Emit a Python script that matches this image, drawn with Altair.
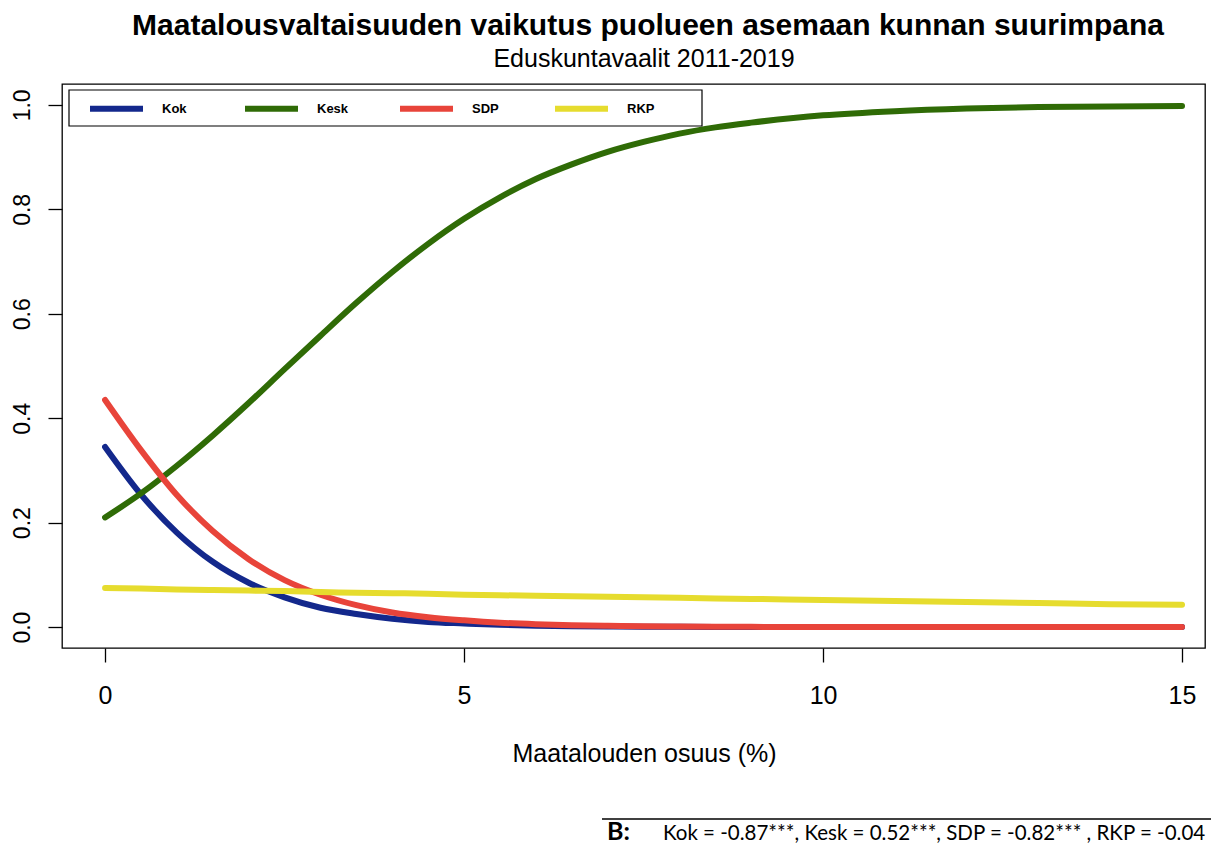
import altair as alt
import pandas as pd

# ---- data ----
x_vals = [0, 0.5, 1, 1.5, 2, 2.5, 3, 3.5, 4, 4.5, 5, 5.5, 6, 6.5, 7, 7.5, 8, 8.5, 9,
          10, 11, 12, 13, 14, 15]
kok = [0.345, 0.254, 0.181, 0.125, 0.085, 0.057, 0.037, 0.025, 0.016, 0.010, 0.007,
       0.0044, 0.0028, 0.0018, 0.0012, 0.0008, 0.0005, 0.0003, 0.0002,
       0.0001, 0.0, 0.0, 0.0, 0.0, 0.0]
kesk = [0.210, 0.256, 0.309, 0.367, 0.429, 0.494, 0.558, 0.621, 0.680, 0.734, 0.782,
        0.823, 0.858, 0.886, 0.910, 0.929, 0.945, 0.957, 0.966,
        0.980, 0.988, 0.993, 0.996, 0.997, 0.998]
sdp = [0.435, 0.339, 0.253, 0.184, 0.130, 0.090, 0.062, 0.042, 0.028, 0.019, 0.013,
       0.0084, 0.0056, 0.0037, 0.0025, 0.0016, 0.0011, 0.0007, 0.0005,
       0.0002, 0.0001, 0.0, 0.0, 0.0, 0.0]
rkp = [0.075, 0.074, 0.072, 0.071, 0.070, 0.069, 0.067, 0.066, 0.065, 0.064, 0.062,
       0.061, 0.060, 0.059, 0.058, 0.057, 0.056, 0.055, 0.054,
       0.052, 0.050, 0.048, 0.046, 0.044, 0.043]

series_names = ["Kok", "Kesk", "SDP", "RKP"]
series_colors = ["#13288c", "#2f6b06", "#e8443a", "#e6dc2e"]

x_ticks = [0, 5, 10, 15]
y_ticks = [0.0, 0.2, 0.4, 0.6, 0.8, 1.0]

title_text = "Maatalousvaltaisuuden vaikutus puolueen asemaan kunnan suurimpana"
subtitle_text = "Eduskuntavaalit 2011-2019"
x_title = "Maatalouden osuus (%)"
note_label = "B:"
note_text = "Kok = -0.87***, Kesk = 0.52***, SDP = -0.82*** , RKP = -0.04"

rows = []
for name, vals in zip(series_names, [kok, kesk, sdp, rkp]):
    for xv, yv in zip(x_vals, vals):
        rows.append({"x": xv, "p": yv, "puolue": name})
df = pd.DataFrame(rows)

W, H = 1143, 564
FONT = "Liberation Sans"

x_scale = alt.Scale(domain=[-0.6, 15.32], nice=False, zero=False)
y_scale = alt.Scale(domain=[-0.04, 1.04], nice=False, zero=False)

lines = alt.Chart(df).mark_line(
    strokeWidth=6, strokeCap="round", strokeJoin="round", interpolate="monotone"
).encode(
    x=alt.X("x:Q", scale=x_scale, axis=alt.Axis(
        values=x_ticks, title=x_title, grid=False, domain=False,
        tickSize=14, tickColor="black", tickWidth=1.3,
        labelFont=FONT, labelFontSize=25, labelColor="black",
        labelPadding=41, labelBaseline="alphabetic", labelFlush=False,
        titleFont=FONT, titleFontSize=25, titleFontWeight="normal", titleColor="black",
        titleX=582, titleY=113, titleAlign="center", titleBaseline="alphabetic")),
    y=alt.Y("p:Q", scale=y_scale, axis=alt.Axis(
        values=y_ticks, format=".1f", title=None, grid=False, domain=False,
        tickSize=14, tickColor="black", tickWidth=1.3,
        labelFont=FONT, labelFontSize=23, labelColor="black",
        labelAngle=270, labelAlign="center", labelBaseline="alphabetic",
        labelPadding=19, labelFlush=False)),
    color=alt.Color("puolue:N", scale=alt.Scale(domain=series_names, range=series_colors),
                    legend=alt.Legend(
                        title=None, orient="none", legendX=25, legendY=-5,
                        direction="horizontal", columns=4, gridAlign="all",
                        symbolType="stroke", symbolSize=2809, symbolStrokeWidth=6,
                        labelFont=FONT, labelFontSize=13, labelFontWeight="bold",
                        labelColor="black", labelOffset=16, columnPadding=39, padding=0)),
)

one = pd.DataFrame({"a": [0]})

legend_box = alt.Chart(one).mark_rect(fill="white", stroke="black", strokeWidth=1.2).encode(
    x=alt.value(7), x2=alt.value(640), y=alt.value(6), y2=alt.value(42))

title_mark = alt.Chart(pd.DataFrame({"t": [title_text]})).mark_text(
    font=FONT, fontSize=30, fontWeight="bold", color="black", align="center",
    baseline="alphabetic").encode(text="t:N", x=alt.value(586), y=alt.value(-49))

subtitle_mark = alt.Chart(pd.DataFrame({"t": [subtitle_text]})).mark_text(
    font=FONT, fontSize=25, color="black", align="center",
    baseline="alphabetic").encode(text="t:N", x=alt.value(582), y=alt.value(-17))

note_rule = alt.Chart(one).mark_rule(color="black", strokeWidth=1.5).encode(
    x=alt.value(540), x2=alt.value(1149), y=alt.value(735))

note_b = alt.Chart(pd.DataFrame({"t": [note_label]})).mark_text(
    font="Lato", fontSize=25, fontWeight="bold", color="black", align="left",
    baseline="alphabetic").encode(text="t:N", x=alt.value(545), y=alt.value(756))

note_t = alt.Chart(pd.DataFrame({"t": [note_text]})).mark_text(
    font="Lato", fontSize=20.5, color="black", align="left",
    baseline="alphabetic").encode(text="t:N", x=alt.value(601), y=alt.value(756))

chart = alt.layer(
    lines, legend_box, title_mark, subtitle_mark, note_rule, note_b, note_t
).properties(
    width=W, height=H,
    autosize=alt.AutoSizeParams(type="none"),
    padding={"left": 54, "top": 76, "right": 6, "bottom": 196},
    background="white",
).configure_view(stroke="black", strokeWidth=1.3)

chart.save("out.html", embed_options={"renderer": "svg", "actions": False})
